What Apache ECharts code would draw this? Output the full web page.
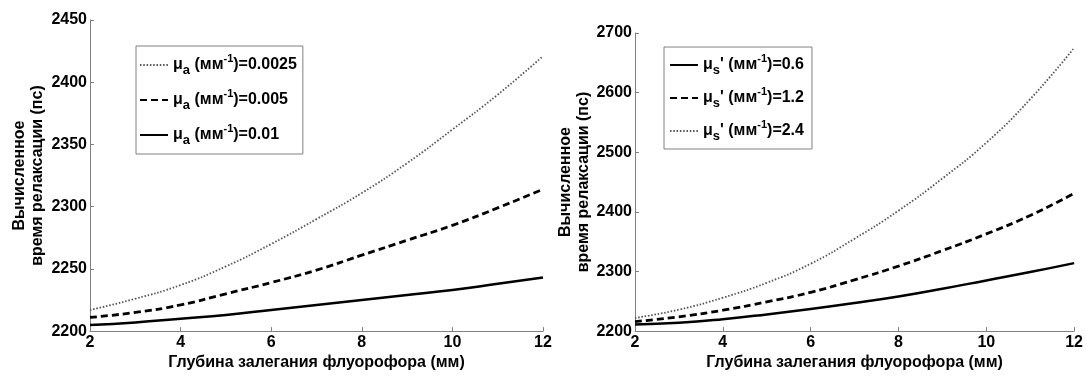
<!DOCTYPE html>
<html>
<head>
<meta charset="utf-8">
<script src="https://cdn.jsdelivr.net/npm/echarts@6/dist/echarts.min.js"></script>
<style>
  html, body { margin: 0; padding: 0; background: #fff; }
  #chart { width: 1086px; height: 376px; }
</style>
</head>
<body>
<div id="chart"></div>
<script>
// depth of fluorophore, mm
var depth = [2, 3, 4, 5, 6, 7, 8, 9, 10, 11, 12];

// left panel: different mu_a
var muaLabels = ['0.0025', '0.005', '0.01'];
var mua0025 = [2217, 2226, 2237, 2252, 2270, 2290, 2311, 2335, 2362, 2390, 2421];
var mua005  = [2211, 2215, 2221, 2230, 2239, 2249, 2261, 2273, 2285, 2299, 2314];
var mua01   = [2205, 2207, 2210, 2213, 2217, 2221, 2225, 2229, 2233, 2238, 2243];

// right panel: different mu_s'
var musLabels = ['0.6', '1.2', '2.4'];
var mus06 = [2211, 2214, 2220, 2228, 2237, 2247, 2258, 2271, 2285, 2299, 2314];
var mus12 = [2216, 2224, 2235, 2249, 2265, 2286, 2309, 2335, 2363, 2394, 2431];
var mus24 = [2222, 2236, 2256, 2281, 2313, 2355, 2402, 2456, 2516, 2589, 2675];

var leftTicks = [2200, 2450, 50];
var rightTicks = [2200, 2700, 100];

function pairs(ys) {
  return depth.map(function (x, i) { return [x, ys[i]]; });
}

var font = 'Liberation Sans, Arial, sans-serif';
var axisGray = '#808080';

var solid  = { color: '#000', width: 2.5, type: 'solid' };
var dashed = { color: '#000', width: 2.8, type: [7, 4] };
var dotted = { color: '#555', width: 1.8, type: [1.5, 1.8] };

function mkSeries(name, ys, ls, idx) {
  return {
    name: name, type: 'line', data: pairs(ys),
    xAxisIndex: idx, yAxisIndex: idx,
    symbol: 'none', smooth: true, lineStyle: ls,
    itemStyle: { color: ls.color }, silent: true
  };
}

var richText = {
  m:   { fontFamily: font, fontSize: 16, fontWeight: 'bold', color: '#000', lineHeight: 24, verticalAlign: 'middle' },
  sub: { fontFamily: font, fontSize: 13, fontWeight: 'bold', color: '#000', lineHeight: 24, verticalAlign: 'bottom' },
  sup: { fontFamily: font, fontSize: 11, fontWeight: 'bold', color: '#000', lineHeight: 24, verticalAlign: 'top' }
};

function legendFmt(name) {
  var p = name.split('|');
  if (p[0] === 'a') {
    return '{m|μ}{sub|a}{m| (мм}{sup|-1}{m|)=' + p[1] + '}';
  }
  return '{m|μ}{sub|s}{m|\' (мм}{sup|-1}{m|)=' + p[1] + '}';
}

function xAx(idx) {
  return {
    type: 'value', gridIndex: idx, min: 2, max: 12, interval: 2,
    name: 'Глубина залегания флуорофора (мм)',
    nameLocation: 'middle', nameGap: 19,
    nameTextStyle: { fontFamily: font, fontSize: 16, fontWeight: 'bold', color: '#000' },
    axisLine: { lineStyle: { color: axisGray, width: 1 } },
    axisTick: { inside: true, length: 4, lineStyle: { color: axisGray } },
    axisLabel: { fontFamily: font, fontSize: 16, fontWeight: 'bold', color: '#000', margin: 3 },
    splitLine: { show: false }
  };
}

function yAx(idx, t, gap) {
  return {
    type: 'value', gridIndex: idx, min: t[0], max: t[1], interval: t[2],
    name: 'Вычисленное\nвремя релаксации (пс)',
    nameLocation: 'middle', nameRotate: 90, nameGap: gap,
    nameTextStyle: { fontFamily: font, fontSize: 16, fontWeight: 'bold', color: '#000', lineHeight: 18 },
    axisLine: { show: true, lineStyle: { color: axisGray, width: 1 } },
    axisTick: { inside: true, length: 4, lineStyle: { color: axisGray } },
    axisLabel: {
      fontFamily: font, fontSize: 16, fontWeight: 'bold', color: '#000', margin: 3,
      formatter: function (v) { return String(v); }
    },
    splitLine: { show: false }
  };
}

var legendBase = {
  orient: 'vertical', selectedMode: false,
  itemWidth: 28, itemHeight: 14,
  borderColor: axisGray, borderWidth: 1,
  backgroundColor: '#fff',
  formatter: legendFmt,
  textStyle: { rich: richText },
  itemStyle: { opacity: 0 }
};

var chart = echarts.init(document.getElementById('chart'));
chart.setOption({
  animation: false,
  backgroundColor: '#fff',
  grid: [
    { left: 90, right: 543, top: 20, bottom: 39.5 },
    { left: 635, right: 9, top: 33, bottom: 38 }
  ],
  xAxis: [xAx(0), xAx(1)],
  yAxis: [yAx(0, leftTicks, 43), yAx(1, rightTicks, 40)],
  legend: [
    Object.assign({}, legendBase, {
      left: 136, top: 46, itemGap: 11, padding: [7, 6, 7, 3],
      data: muaLabels.map(function (v) { return 'a|' + v; })
    }),
    Object.assign({}, legendBase, {
      left: 664, top: 47, itemGap: 9, padding: [6, 8, 6, 5],
      data: musLabels.map(function (v) { return 's|' + v; })
    })
  ],
  series: [
    mkSeries('a|' + muaLabels[0], mua0025, dotted, 0),
    mkSeries('a|' + muaLabels[1], mua005, dashed, 0),
    mkSeries('a|' + muaLabels[2], mua01, solid, 0),
    mkSeries('s|' + musLabels[0], mus06, solid, 1),
    mkSeries('s|' + musLabels[1], mus12, dashed, 1),
    mkSeries('s|' + musLabels[2], mus24, dotted, 1)
  ]
});
</script>
</body>
</html>
